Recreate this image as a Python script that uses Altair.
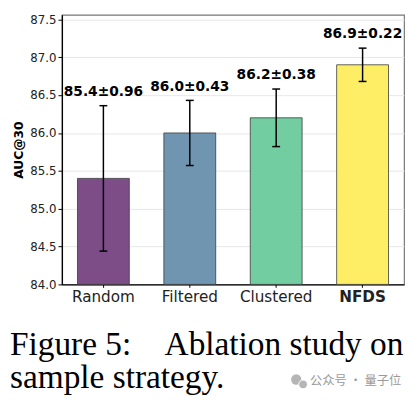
import pandas as pd
import altair as alt

strategies = ["Random", "Filtered", "Clustered", "NFDS"]
auc_mean = [85.4, 86.0, 86.2, 86.9]
auc_std = [0.96, 0.43, 0.38, 0.22]
bar_colors = ["#7C4D87", "#6F95B0", "#72CDA1", "#FEEE66"]
y_ticks = [84.0, 84.5, 85.0, 85.5, 86.0, 86.5, 87.0, 87.5]
NB = "\u00a0"
caption = ["Figure 5:" + NB * 4 + "Ablation" + NB + "study on", "sample strategy."]
watermark = "公众号 · 量子位"

df = pd.DataFrame({"Strategy": strategies, "AUC": auc_mean, "std": auc_std})
df["lo"] = df["AUC"] - df["std"]
df["hi"] = df["AUC"] + df["std"]
df["label"] = [f"{m:.1f}±{s:.2f}" for m, s in zip(auc_mean, auc_std)]

x = alt.X(
    "Strategy:N",
    sort=strategies,
    title=None,
    scale=alt.Scale(paddingInner=0.4, paddingOuter=0.18),
    axis=alt.Axis(
        labelAngle=0,
        labelFontSize=15.5,
        labelFont="DejaVu Sans",
        labelColor="#222",
        labelFontWeight=alt.expr("datum.value == 'NFDS' ? 'bold' : 'normal'"),
        labelPadding=2,
        tickSize=3,
        tickColor="black",
        domainColor="black",
        domainWidth=1.3,
        grid=False,
    ),
)
yscale = alt.Scale(domain=[84.0, 87.56], nice=False, zero=False)
y_axis = alt.Axis(
    values=y_ticks,
    format=".1f",
    title="AUC@30",
    titleFont="DejaVu Sans",
    titleFontSize=12.5,
    titleFontWeight="bold",
    titleColor="black",
    titlePadding=4,
    labelFont="DejaVu Sans",
    labelFontSize=12,
    labelColor="#222",
    labelPadding=2,
    tickSize=4,
    tickColor="black",
    domainColor="black",
    domainWidth=1.3,
    gridColor="#e6e6e6",
    gridWidth=1,
)


def yenc(field):
    return alt.Y(field, type="quantitative", scale=yscale, axis=y_axis)


base = alt.Chart(df)

bars = base.mark_bar(stroke="#3a3a3a", strokeWidth=1, strokeOpacity=0.8).encode(
    x=x,
    y=yenc("AUC"),
    y2=alt.datum(84.0),
    color=alt.Color("Strategy:N", scale=alt.Scale(domain=strategies, range=bar_colors), legend=None),
)

err = base.mark_rule(color="black", strokeWidth=1.5).encode(x=x, y=yenc("lo"), y2="hi:Q")
cap_lo = base.mark_tick(color="black", size=8, thickness=1.5, opacity=1).encode(x=x, y=yenc("lo"))
cap_hi = base.mark_tick(color="black", size=8, thickness=1.5, opacity=1).encode(x=x, y=yenc("hi"))

labels = base.mark_text(
    font="DejaVu Sans", fontSize=14, fontWeight="bold", color="black",
    baseline="alphabetic", dy=-10,
).encode(x=x, y=yenc("hi"), text="label:N")

cap_style = dict(font="Liberation Serif", fontSize=34, color="black", align="left", baseline="alphabetic")
cap1 = alt.Chart(pd.DataFrame({"t": [caption[0]]})).mark_text(**cap_style).encode(
    x=alt.value(-53), y=alt.value(347), text="t:N"
)
cap2 = alt.Chart(pd.DataFrame({"t": [caption[1]]})).mark_text(**cap_style).encode(
    x=alt.value(-53), y=alt.value(381), text="t:N"
)

wm = alt.Chart(pd.DataFrame({"t": [watermark]})).mark_text(
    font="Noto Sans CJK SC", fontSize=12.5, color="#9a9a9a", align="left", baseline="middle"
).encode(x=alt.value(253), y=alt.value(374), text="t:N")
icon1 = alt.Chart(pd.DataFrame({"t": [1]})).mark_point(
    shape="circle", filled=True, color="#b5b5b5", size=110, opacity=1
).encode(x=alt.value(239), y=alt.value(372))
icon2 = alt.Chart(pd.DataFrame({"t": [1]})).mark_point(
    shape="circle", filled=True, color="#b5b5b5", size=80, opacity=1, stroke="white", strokeWidth=1
).encode(x=alt.value(246), y=alt.value(377))

chart = alt.layer(bars, err, cap_lo, cap_hi, labels, cap1, cap2, wm, icon1, icon2).properties(
    width=349,
    height=275,
    autosize=alt.AutoSizeParams(type="none"),
    padding={"left": 55, "top": 3, "right": 3, "bottom": 116},
).configure_view(stroke="#777", strokeWidth=1.2)

chart.save("out.html", embed_options={"renderer": "svg", "actions": False})
